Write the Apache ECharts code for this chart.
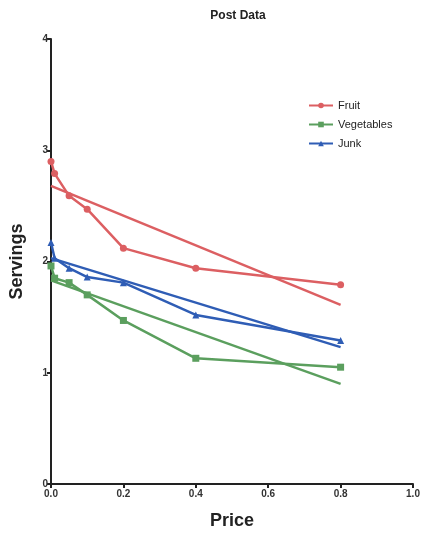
<!DOCTYPE html>
<html>
<head>
<meta charset="utf-8">
<script src="https://cdn.jsdelivr.net/npm/echarts@6/dist/echarts.min.js"></script>
<style>
  html, body { margin: 0; padding: 0; background: #ffffff; }
  #chart { width: 426px; height: 535px; }
</style>
</head>
<body>
<div id="chart"></div>
<script>
// Price levels tested
const prices = [0, 0.01, 0.05, 0.1, 0.2, 0.4, 0.8];

// Mean servings at each price
const fruit = [2.90, 2.79, 2.59, 2.47, 2.12, 1.94, 1.79];
const vegetables = [1.96, 1.85, 1.81, 1.70, 1.47, 1.13, 1.05];
const junk = [2.17, 2.03, 1.94, 1.86, 1.81, 1.52, 1.29];

// Straight-line fits: values at the first and last price
const fitPrices = [0, 0.8];
const fruitFit = [2.68, 1.61];
const vegetablesFit = [1.83, 0.90];
const junkFit = [2.03, 1.23];

const xTicks = ['0.0', '0.2', '0.4', '0.6', '0.8', '1.0'];

const colors = { Fruit: '#dc5f62', Vegetables: '#5b9f5e', Junk: '#2f5db5' };
const FONT = '"Liberation Sans", Arial, sans-serif';

function pairs(xs, ys) { return xs.map((x, i) => [x, ys[i]]); }

function dataSeries(name, ys, symbol, size) {
  return {
    name, type: 'line', data: pairs(prices, ys),
    symbol, symbolSize: size,
    lineStyle: { width: 2.5, color: colors[name] },
    itemStyle: { color: colors[name] },
    z: 3
  };
}
function fitSeries(name, ys) {
  return {
    name: name + ' fit', type: 'line', data: pairs(fitPrices, ys),
    symbol: 'none',
    lineStyle: { width: 2.5, color: colors[name] },
    z: 2
  };
}

const chart = echarts.init(document.getElementById('chart'));
chart.setOption({
  animation: false,
  backgroundColor: '#ffffff',
  title: {
    text: 'Post Data', left: 233, top: 5, textAlign: 'center',
    textStyle: { fontFamily: FONT, fontWeight: 'bold', fontSize: 12, color: '#222' }
  },
  legend: {
    data: ['Fruit', 'Vegetables', 'Junk'],
    orient: 'vertical', left: 303, top: 95,
    itemWidth: 24, itemHeight: 7, itemGap: 8,
    textStyle: { fontFamily: FONT, fontSize: 11, color: '#222' }
  },
  grid: { left: 50, right: 13, top: 39, bottom: 51 },
  xAxis: {
    type: 'value', min: 0, max: 1, interval: 0.2,
    name: 'Price', nameLocation: 'middle', nameGap: 28,
    nameTextStyle: { fontFamily: FONT, fontWeight: 'bold', fontSize: 18, color: '#222' },
    axisLine: { lineStyle: { color: '#222', width: 2 } },
    axisTick: { show: true, length: 4, lineStyle: { color: '#222', width: 2 } },
    axisLabel: {
      fontFamily: FONT, fontWeight: 'bold', fontSize: 10, color: '#333', margin: 5,
      formatter: v => xTicks[Math.round(v / 0.2)]
    },
    splitLine: { show: false }
  },
  yAxis: {
    type: 'value', min: 0, max: 4, interval: 1,
    name: 'Servings', nameLocation: 'middle', nameGap: 25, nameRotate: 90,
    nameTextStyle: { fontFamily: FONT, fontWeight: 'bold', fontSize: 18, color: '#222' },
    axisLine: { show: true, lineStyle: { color: '#222', width: 2 } },
    axisTick: { show: true, length: 4, lineStyle: { color: '#222', width: 2 } },
    axisLabel: { fontFamily: FONT, fontWeight: 'bold', fontSize: 10, color: '#333', margin: 3 },
    splitLine: { show: false }
  },
  series: [
    dataSeries('Fruit', fruit, 'circle', 7),
    dataSeries('Vegetables', vegetables, 'rect', 7),
    dataSeries('Junk', junk, 'triangle', 7),
    fitSeries('Fruit', fruitFit),
    fitSeries('Vegetables', vegetablesFit),
    fitSeries('Junk', junkFit)
  ]
});
</script>
</body>
</html>
